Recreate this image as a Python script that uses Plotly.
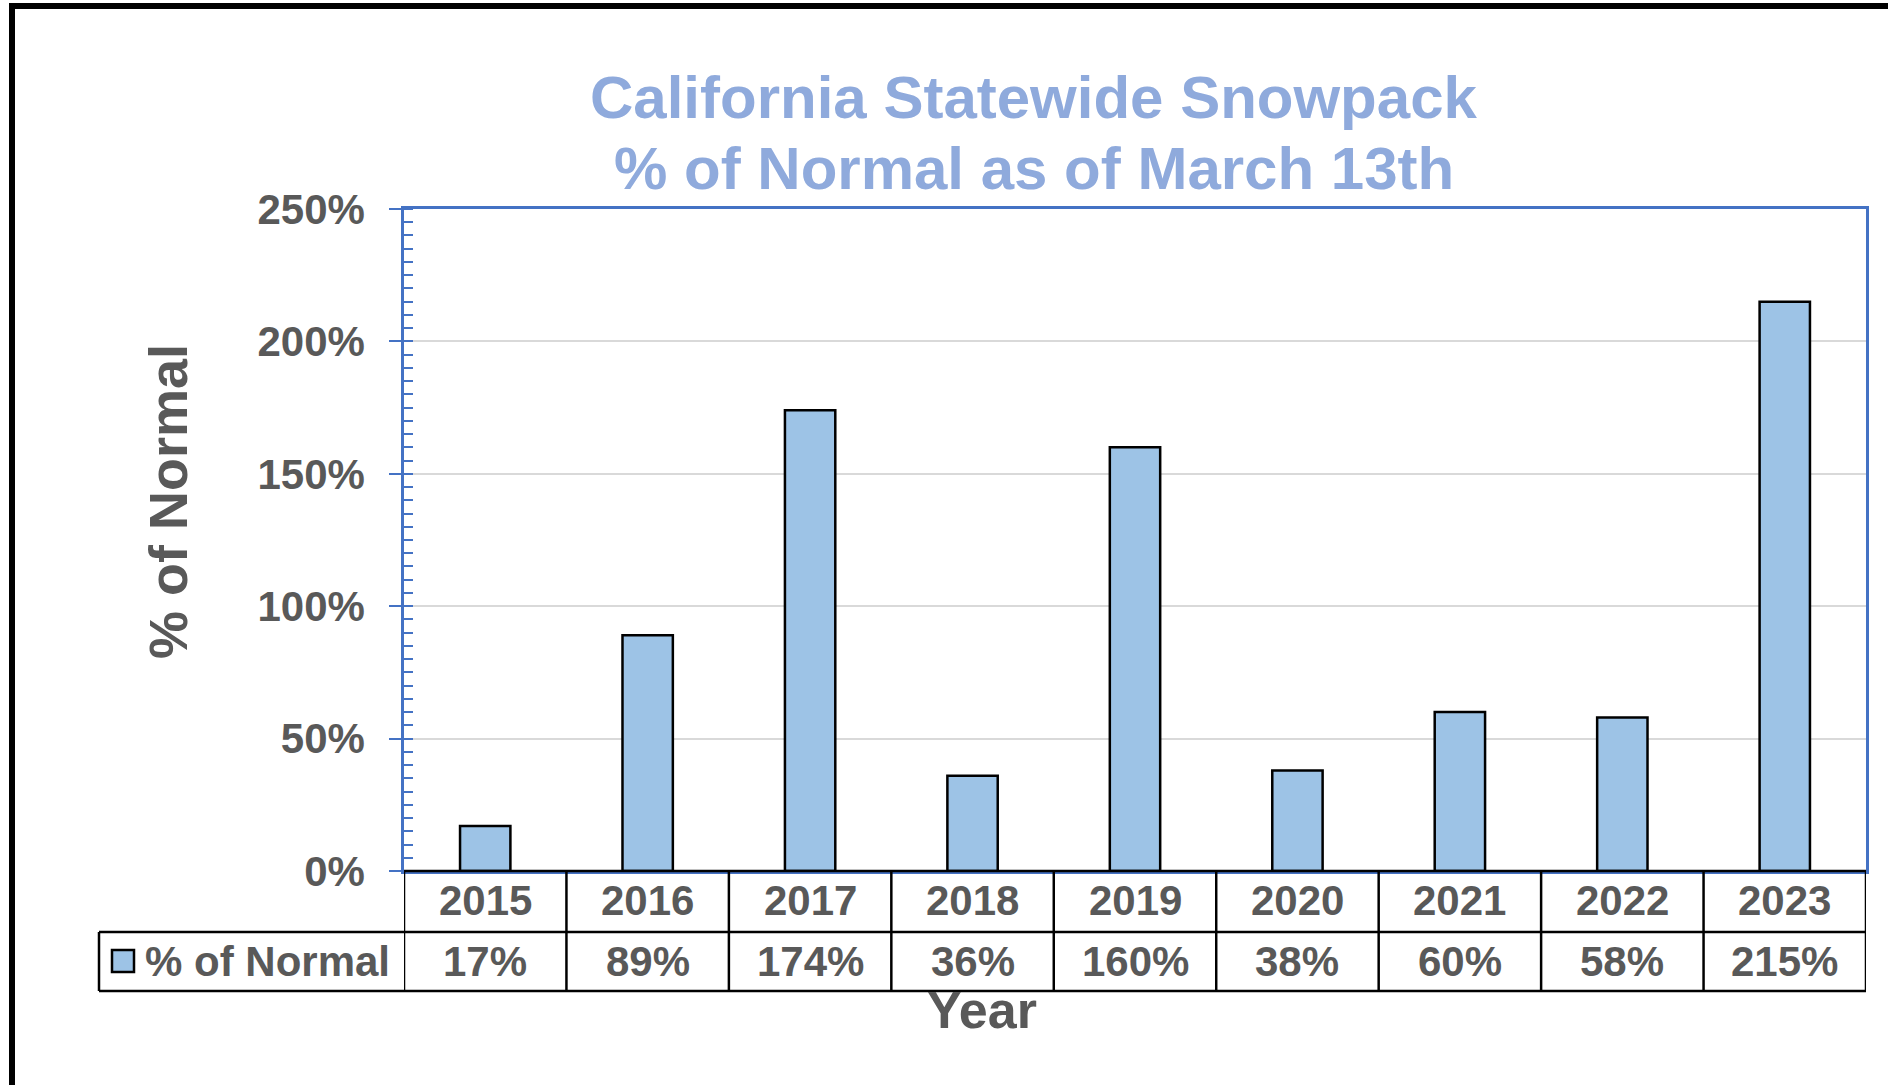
import plotly.graph_objects as go

# ---------------- data ----------------
years = ["2015", "2016", "2017", "2018", "2019", "2020", "2021", "2022", "2023"]
pct_normal = [17, 89, 174, 36, 160, 38, 60, 58, 215]
y_ticks = [0, 50, 100, 150, 200, 250]
y_tick_text = ["0%", "50%", "100%", "150%", "200%", "250%"]
series_name = "% of Normal"
title_lines = ["California Statewide Snowpack", "% of Normal as of March 13th"]
y_title = "% of Normal"
x_title = "Year"

# ---------------- layout constants (pixels) ----------------
W, H = 1888, 1085
L, R, T, B = 404, 1866, 209, 871
ROW1, ROW2 = 932, 991          # table row bottoms
LEG_LEFT = 99

FONT = "Liberation Sans, Arial, sans-serif"
TXT = "#595959"
BLUE = "#4472C4"
TITLE_C = "#8FAADC"
BAR_C = "#9DC3E6"


def px(xp):
    return (xp - L) / (R - L)


def py(yp):
    return (B - yp) / (B - T)


fig = go.Figure()
fig.add_trace(go.Bar(
    x=years, y=pct_normal, name=series_name, width=0.31,
    marker=dict(color=BAR_C, line=dict(color="black", width=2.5)),
    showlegend=False,
))

shapes = []
# outer frame (top + left visible)
shapes.append(dict(type="line", xref="paper", yref="paper", x0=px(9), x1=px(W + 5),
                   y0=py(6), y1=py(6), line=dict(color="black", width=6)))
shapes.append(dict(type="line", xref="paper", yref="paper", x0=px(12), x1=px(12),
                   y0=py(3), y1=py(H + 5), line=dict(color="black", width=6)))
# table horizontal lines
for yy, x_left in [(B, L), (ROW1, LEG_LEFT), (ROW2, LEG_LEFT)]:
    shapes.append(dict(type="line", xref="paper", yref="paper", x0=px(x_left), x1=px(R),
                       y0=py(yy), y1=py(yy), line=dict(color="black", width=2.5)))
# legend cell left edge
shapes.append(dict(type="line", xref="paper", yref="paper", x0=px(LEG_LEFT), x1=px(LEG_LEFT),
                   y0=py(ROW1), y1=py(ROW2), line=dict(color="black", width=2.5)))
# category boundaries
for i in range(len(years) + 1):
    shapes.append(dict(type="line", xref="x", yref="paper", x0=i - 0.5, x1=i - 0.5,
                       y0=py(B), y1=py(ROW2), line=dict(color="black", width=2.5)))
# legend key
shapes.append(dict(type="rect", xref="paper", yref="paper", x0=px(112), x1=px(134),
                   y0=py(972), y1=py(950), fillcolor=BAR_C,
                   line=dict(color="black", width=2.5)))

ann = []
cell_font = dict(family=FONT, size=42, color=TXT, weight="bold")
for i, (yr, v) in enumerate(zip(years, pct_normal)):
    ann.append(dict(x=i, xref="x", y=py((B + ROW1) / 2 - 1), yref="paper", text=yr,
                    showarrow=False, font=cell_font, xanchor="center", yanchor="middle"))
    ann.append(dict(x=i, xref="x", y=py((ROW1 + ROW2) / 2), yref="paper", text=f"{v}%",
                    showarrow=False, font=cell_font, xanchor="center", yanchor="middle"))
ann.append(dict(x=px(143), xref="paper", y=py((ROW1 + ROW2) / 2), yref="paper",
                text=series_name, showarrow=False, font=cell_font,
                xanchor="left", yanchor="middle"))
# titles
ann.append(dict(x=px(1034), xref="paper", y=py(98), yref="paper", text=title_lines[0],
                showarrow=False, xanchor="center", yanchor="middle",
                font=dict(family=FONT, size=60, color=TITLE_C, weight="bold")))
ann.append(dict(x=px(1034), xref="paper", y=py(168), yref="paper", text=title_lines[1],
                showarrow=False, xanchor="center", yanchor="middle",
                font=dict(family=FONT, size=60, color=TITLE_C, weight="bold")))
ann.append(dict(x=px(168), xref="paper", y=py(502), yref="paper", text=y_title,
                showarrow=False, textangle=-90, xanchor="center", yanchor="middle",
                font=dict(family=FONT, size=54, color=TXT, weight="bold")))
ann.append(dict(x=px(982), xref="paper", y=py(1010), yref="paper", text=x_title,
                showarrow=False, xanchor="center", yanchor="middle",
                font=dict(family=FONT, size=52, color=TXT, weight="bold")))

fig.update_layout(
    width=W, height=H,
    margin=dict(l=L, r=W - R, t=T, b=H - B),
    paper_bgcolor="white", plot_bgcolor="white",
    shapes=shapes, annotations=ann,
    xaxis=dict(type="category", range=[-0.5, len(years) - 0.5], showticklabels=False,
               ticks="", showgrid=False, showline=True, mirror=True,
               linecolor=BLUE, linewidth=2.5, zeroline=False),
    yaxis=dict(range=[0, 250], tickmode="array", tickvals=y_ticks, ticktext=y_tick_text,
               tickfont=dict(family=FONT, size=42, color=TXT, weight="bold"),
               ticks="outside", ticklen=12, tickwidth=2, tickcolor=BLUE,
               ticklabelstandoff=16,
               showline=True, mirror=True, linecolor=BLUE, linewidth=2.5,
               showgrid=True, gridcolor="#D9D9D9", gridwidth=2, zeroline=False,
               minor=dict(ticks="inside", dtick=5, ticklen=9, tickwidth=2,
                          tickcolor=BLUE, showgrid=False)),
    bargap=0.69,
)

fig.write_html("out.html")
